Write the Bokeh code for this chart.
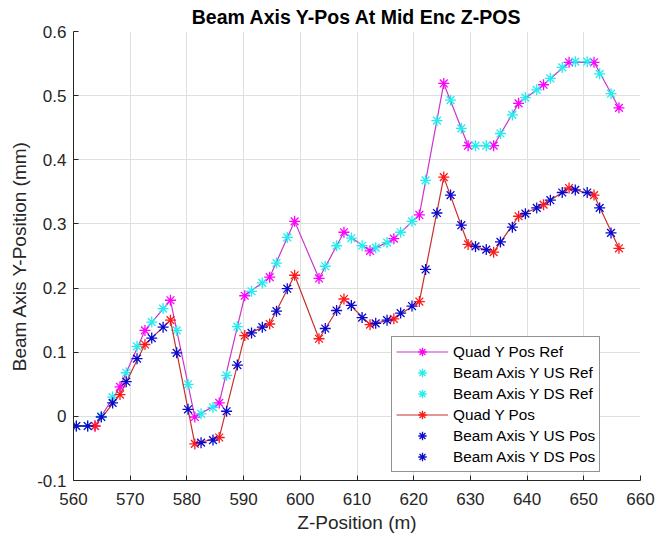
from bokeh.plotting import figure
from bokeh.models import (Range1d, FixedTicker, CustomJSTickFormatter, Legend, LegendItem)
from bokeh.embed import file_html
from bokeh.resources import INLINE

# ---- data ----
quad_z = [559.4, 563.8, 568.2, 572.6, 577.1, 581.4, 585.7, 590.2, 594.6, 599.0, 603.3,
          607.7, 612.3, 616.5, 621.0, 625.3, 629.6, 634.1, 638.5, 642.9, 647.4, 651.8, 656.2]
quad_ref = [-0.015, -0.015, 0.046, 0.134, 0.181, -0.001, 0.021, 0.188, 0.217, 0.304, 0.215,
            0.287, 0.258, 0.277, 0.314, 0.519, 0.422, 0.422, 0.488, 0.517, 0.552, 0.552, 0.481]
quad_pos = [-0.015, -0.015, 0.034, 0.112, 0.150, -0.043, -0.033, 0.126, 0.144, 0.220, 0.121,
            0.183, 0.143, 0.152, 0.179, 0.373, 0.268, 0.256, 0.312, 0.330, 0.356, 0.345, 0.262]

us_z = [560.5, 564.9, 569.3, 573.8, 578.2, 582.5, 587.0, 591.4, 595.8, 604.4, 609.0,
        613.3, 617.7, 622.1, 626.5, 630.9, 635.3, 639.7, 644.1, 648.5, 652.8]
ds_z = [562.5, 566.9, 571.2, 575.8, 580.2, 584.6, 588.9, 593.3, 597.7, 606.4, 610.9,
        615.3, 619.7, 624.1, 628.4, 632.8, 637.4, 641.7, 646.2, 650.6, 654.8]

us_ref = [-0.015, 0.000, 0.068, 0.147, 0.134, 0.004, 0.064, 0.195, 0.239, 0.234, 0.278,
          0.263, 0.287, 0.368, 0.493, 0.422, 0.441, 0.497, 0.527, 0.553, 0.534]
ds_ref = [-0.015, 0.030, 0.109, 0.168, 0.050, 0.014, 0.140, 0.208, 0.279, 0.266, 0.266,
          0.271, 0.304, 0.461, 0.449, 0.422, 0.470, 0.509, 0.544, 0.553, 0.503]
us_pos = [-0.015, -0.001, 0.054, 0.122, 0.099, -0.041, 0.008, 0.130, 0.164, 0.137, 0.173,
          0.145, 0.161, 0.229, 0.345, 0.265, 0.272, 0.316, 0.337, 0.353, 0.325]
ds_pos = [-0.015, 0.021, 0.090, 0.139, 0.011, -0.037, 0.080, 0.139, 0.199, 0.165, 0.154,
          0.150, 0.172, 0.317, 0.298, 0.260, 0.295, 0.325, 0.349, 0.349, 0.286]

x_ticks = [560, 570, 580, 590, 600, 610, 620, 630, 640, 650, 660]
y_ticks = [-0.1, 0, 0.1, 0.2, 0.3, 0.4, 0.5, 0.6]

FONT = "Liberation Sans"
AX = "#262626"

p = figure(width=656, height=537, x_range=Range1d(560, 660), y_range=Range1d(-0.1, 0.6),
           toolbar_location=None, output_backend="svg",
           min_border_left=73, min_border_right=16, min_border_top=31, min_border_bottom=57,
           title="Beam Axis Y-Pos At Mid Enc Z-POS")
p.outline_line_color = None
p.background_fill_color = "white"
p.border_fill_color = "white"

p.title.text_font = FONT
p.title.text_font_size = "19.5px"
p.title.text_font_style = "bold"
p.title.align = "center"
p.title.text_color = "black"
p.title.standoff = 7

for ax, ticks in ((p.xaxis[0], x_ticks), (p.yaxis[0], y_ticks)):
    ax.ticker = FixedTicker(ticks=ticks)
    ax.major_tick_in = 5
    ax.major_tick_out = 0
    ax.minor_tick_in = 0
    ax.minor_tick_out = 0
    ax.axis_line_color = AX
    ax.major_tick_line_color = AX
    ax.major_label_text_font = FONT
    ax.major_label_text_font_size = "17px"
    ax.major_label_text_color = AX
    ax.axis_label_text_font = FONT
    ax.axis_label_text_font_size = "19px"
    ax.axis_label_text_font_style = "normal"
    ax.axis_label_text_color = AX

p.xaxis[0].formatter = CustomJSTickFormatter(code="return tick.toFixed(0);")
p.yaxis[0].formatter = CustomJSTickFormatter(
    code="var s = tick.toFixed(1); if (s === '0.0' || s === '-0.0') { s = '0'; } return s;")
p.xaxis[0].major_label_standoff = 12
p.yaxis[0].major_label_standoff = 7
p.xaxis[0].axis_label = "Z-Position (m)"
p.yaxis[0].axis_label = "Beam Axis Y-Position (mm)"
p.xaxis[0].axis_label_standoff = 4
p.yaxis[0].axis_label_standoff = 4

p.xgrid.ticker = FixedTicker(ticks=x_ticks)
p.ygrid.ticker = FixedTicker(ticks=y_ticks)
p.grid.grid_line_color = "#dfdfdf"
p.grid.grid_line_width = 1

MS = 11
MAG = "#ff00ff"
CYA = "#22eeee"
RED = "#ff1a1a"
BLU = "#0a0ad0"

l1 = p.line(quad_z, quad_ref, line_color="#cc33cc", line_width=1.2)
s1 = p.scatter(quad_z, quad_ref, marker="asterisk", size=MS, line_color=MAG, line_width=1.3)
s2 = p.scatter(us_z, us_ref, marker="asterisk", size=MS, line_color=CYA, line_width=1.3)
s3 = p.scatter(ds_z, ds_ref, marker="asterisk", size=MS, line_color=CYA, line_width=1.3)
l4 = p.line(quad_z, quad_pos, line_color="#c8302a", line_width=1.2)
s4 = p.scatter(quad_z, quad_pos, marker="asterisk", size=MS, line_color=RED, line_width=1.3)
s5 = p.scatter(us_z, us_pos, marker="asterisk", size=MS, line_color=BLU, line_width=1.3)
s6 = p.scatter(ds_z, ds_pos, marker="asterisk", size=MS, line_color=BLU, line_width=1.3)

legend = Legend(items=[
    LegendItem(label="Quad Y Pos Ref", renderers=[l1, s1]),
    LegendItem(label="Beam Axis Y US Ref", renderers=[s2]),
    LegendItem(label="Beam Axis Y DS Ref", renderers=[s3]),
    LegendItem(label="Quad Y Pos", renderers=[l4, s4]),
    LegendItem(label="Beam Axis Y US Pos", renderers=[s5]),
    LegendItem(label="Beam Axis Y DS Pos", renderers=[s6]),
], location=(318, 8))
legend.label_text_font = FONT
legend.label_text_font_size = "15.3px"
legend.label_text_color = "black"
legend.glyph_width = 52
legend.glyph_height = 21
legend.label_height = 21
legend.label_standoff = 5
legend.spacing = 0
legend.padding = 4
legend.margin = 0
legend.border_line_color = AX
legend.border_line_width = 1
legend.background_fill_color = "white"
legend.background_fill_alpha = 1
p.add_layout(legend)

open("out.html", "w").write(file_html(p, INLINE))
